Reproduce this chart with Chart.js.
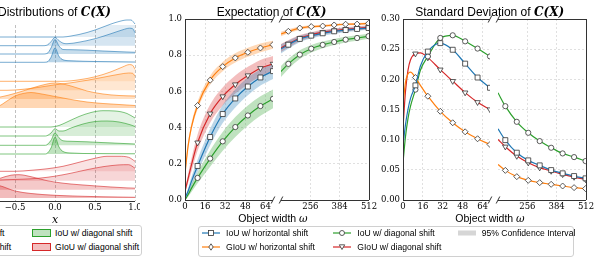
<!DOCTYPE html>
<html>
<head>
<meta charset="utf-8">
<script src="https://cdn.jsdelivr.net/npm/chart.js@4.4.1/dist/chart.umd.min.js"></script>
<style>
  html, body { margin: 0; padding: 0; background: #fff; }
  body { width: 598px; height: 259px; position: relative; overflow: hidden; font-family: 'Liberation Sans', Arial, sans-serif; color: #000; }
  canvas { position: absolute; top: 0; }
  .txt { position: absolute; white-space: nowrap; transform: translate(-50%, -50%); line-height: 1; }
  .title { font-size: 12px; }
  .math { font-family: 'DejaVu Serif', serif; font-weight: bold; font-style: italic; }
  .xlab { font-size: 10.5px; }
  .legend { position: absolute; border: 1px solid #d0d0d0; border-radius: 3px; background: #fff; }
  .item { position: absolute; font-size: 8.6px; white-space: nowrap; line-height: 1; transform: translateY(-50%); }
  .item svg { display: block; }
</style>
</head>
<body>

<canvas id="dist" width="170" height="217" style="left:-30px"></canvas>
<canvas id="expL" width="130" height="216" style="left:150px"></canvas>
<canvas id="expR" width="103" height="216" style="left:276px"></canvas>
<canvas id="stdL" width="129" height="216" style="left:368px"></canvas>
<canvas id="stdR" width="103" height="216" style="left:493px"></canvas>

<div class="txt title" style="left:54.5px;top:11.5px">Distributions of <span class="math">C(X)</span></div>
<div class="txt title" style="left:271.5px;top:11.5px">Expectation of <span class="math">C(X)</span></div>
<div class="txt title" style="left:489.7px;top:11.5px">Standard Deviation of <span class="math">C(X)</span></div>

<div class="txt" style="left:55px;top:219px;font-family:'DejaVu Serif',serif;font-style:italic;font-size:11px">x</div>
<div class="txt xlab" style="left:273px;top:218px">Object width <span style="font-family:'DejaVu Serif',serif;font-style:italic">ω</span></div>
<div class="txt xlab" style="left:490px;top:218px">Object width <span style="font-family:'DejaVu Serif',serif;font-style:italic">ω</span></div>

<div id="legDist" class="legend" style="left:-110px;top:225px;width:250px;height:29px"></div>
<div id="legMain" class="legend" style="left:198px;top:226px;width:374px;height:29px"></div>

<script>
// ---------------- data ----------------
const seriesNames = ['IoU w/ horizontal shift', 'GIoU w/ horizontal shift', 'IoU w/ diagonal shift', 'GIoU w/ diagonal shift'];
const seriesColors = ['blue', 'orange', 'green', 'red'];

// x values of the sampled curves (left part and right part of the broken axis)
const expXLeft = [0, 2.5, 5, 10, 20, 30, 40, 50, 60, 70];
const stdXLeft = [0, 2, 4, 6, 10, 14, 20, 30, 40, 50, 60, 70];
const xRight = [128, 160, 210, 260, 310, 360, 410, 460, 510];
const markXLeft = [10, 20, 30, 40, 50, 60, 70];
const markXRight = [160, 210, 260, 310, 360, 410, 460, 510];

const xTicksLeft = [0, 16, 32, 48, 64];
const xTicksRight = [256, 384, 512];

// expectation of C(X)
const iouHorExpL  = [0.01, 0.05, 0.10, 0.188, 0.348, 0.475, 0.561, 0.627, 0.677, 0.712];
const iouHorExpR  = [0.835, 0.858, 0.890, 0.908, 0.921, 0.932, 0.939, 0.945, 0.950];
const giouHorExpL = [0.146, 0.30, 0.40, 0.522, 0.662, 0.737, 0.785, 0.816, 0.840, 0.858];
const giouHorExpR = [0.917, 0.932, 0.950, 0.958, 0.961, 0.967, 0.971, 0.972, 0.976];
const iouDiaExpL  = [0.0, 0.03, 0.063, 0.122, 0.229, 0.324, 0.403, 0.467, 0.519, 0.559];
const iouDiaExpR  = [0.710, 0.752, 0.803, 0.836, 0.857, 0.873, 0.886, 0.895, 0.905];
const giouDiaExpL = [0.048, 0.12, 0.19, 0.317, 0.477, 0.572, 0.638, 0.688, 0.728, 0.752];
const giouDiaExpR = [0.840, 0.862, 0.894, 0.912, 0.927, 0.936, 0.943, 0.949, 0.954];

// half width of the 95% confidence band
const iouHorCiL  = [0.0, 0.015, 0.025, 0.035, 0.045, 0.05, 0.05, 0.048, 0.045, 0.043];
const iouHorCiR  = [0.025, 0.022, 0.018, 0.016, 0.014, 0.013, 0.012, 0.011, 0.010];
const giouHorCiL = [0.015, 0.02, 0.02, 0.022, 0.025, 0.026, 0.026, 0.025, 0.024, 0.022];
const giouHorCiR = [0.012, 0.011, 0.009, 0.008, 0.007, 0.007, 0.006, 0.006, 0.006];
const iouDiaCiL  = [0.0, 0.012, 0.02, 0.03, 0.045, 0.052, 0.055, 0.055, 0.054, 0.052];
const iouDiaCiR  = [0.03, 0.028, 0.024, 0.021, 0.019, 0.017, 0.016, 0.015, 0.014];
const giouDiaCiL = [0.01, 0.025, 0.035, 0.045, 0.05, 0.05, 0.05, 0.048, 0.046, 0.044];
const giouDiaCiR = [0.022, 0.02, 0.017, 0.015, 0.013, 0.012, 0.011, 0.011, 0.010];

// standard deviation of C(X)
const iouHorStdL  = [0.09, 0.125, 0.15, 0.168, 0.19, 0.222, 0.246, 0.26, 0.249, 0.226, 0.203, 0.186];
const iouHorStdR  = [0.118, 0.0992, 0.0784, 0.0657, 0.0574, 0.0496, 0.0442, 0.0397, 0.0359];
const giouHorStdL = [0.158, 0.195, 0.209, 0.212, 0.203, 0.19, 0.172, 0.147, 0.128, 0.113, 0.1015, 0.092];
const giouHorStdR = [0.059, 0.0491, 0.0387, 0.0326, 0.0288, 0.026, 0.0232, 0.0205, 0.0189];
const iouDiaStdL  = [0.062, 0.105, 0.135, 0.155, 0.183, 0.215, 0.238, 0.2686, 0.273, 0.263, 0.251, 0.238];
const iouDiaStdR  = [0.1776, 0.1555, 0.1296, 0.1114, 0.0976, 0.0866, 0.0772, 0.0711, 0.0645];
const giouDiaStdL = [0.12, 0.18, 0.215, 0.232, 0.2426, 0.244, 0.236, 0.216, 0.197, 0.178, 0.162, 0.150];
const giouDiaStdR = [0.1004, 0.0883, 0.0728, 0.0618, 0.0536, 0.048, 0.0425, 0.038, 0.0342];

// ridge densities: [x, height] pairs, one ridge per object width (widest on top)
const distIouHor = [
  [[-1,0],[0.1,0],[0.2,1],[0.3,2.5],[0.4,4.5],[0.5,7],[0.6,10],[0.7,13],[0.8,15.5],[0.9,17],[0.95,17],[1,13]],
  [[-1,0],[-0.15,0],[-0.1,0.5],[-0.05,4],[0,8.3],[0.05,5],[0.1,2.5],[0.15,2],[0.3,3.5],[0.5,7],[0.7,12],[0.85,16],[0.93,17.5],[0.97,17],[1,13]],
  [[-1,0],[-0.15,0],[-0.1,0.5],[-0.05,6],[0,14.5],[0.05,8],[0.1,4.5],[0.2,4.3],[0.4,3.8],[0.6,3],[0.8,2.3],[1,1.7]],
  [[-1,0],[-0.15,0],[-0.1,0.3],[-0.05,5],[0,14.3],[0.05,6],[0.1,2.5],[0.2,1.5],[0.5,0.8],[1,0.3]]
];
const distGiouHor = [
  [[-1,0],[0.1,0],[0.3,1.5],[0.5,4.5],[0.7,9.5],[0.85,14.5],[0.93,16.7],[0.97,16],[1,12]],
  [[-1,0],[-0.6,0],[-0.4,1],[-0.2,3],[0,5.5],[0.2,7.5],[0.4,10],[0.6,13],[0.8,16],[0.92,17.3],[0.97,17],[1,14]],
  [[-1,0],[-0.8,0.5],[-0.6,3.5],[-0.4,8],[-0.2,13],[0,16],[0.2,13],[0.4,8],[0.6,5],[0.8,3.5],[1,3]],
  [[-1,0],[-0.8,0.5],[-0.7,2],[-0.6,7],[-0.5,12],[-0.4,14.5],[-0.3,15.5],[-0.2,14.5],[0,11.5],[0.2,8.5],[0.4,6],[0.6,4.5],[0.8,3.5],[1,2.5]]
];
const distIouDia = [
  [[-1,0],[-0.05,0],[0.05,1.5],[0.15,5],[0.3,10.5],[0.45,14.5],[0.6,16.3],[0.75,16],[0.9,13.5],[1,9]],
  [[-1,0],[-0.12,0],[-0.05,3],[0,7.3],[0.05,5],[0.1,5],[0.2,8],[0.35,12],[0.5,14.5],[0.65,15],[0.8,14],[0.95,11],[1,9.5]],
  [[-1,0],[-0.12,0],[-0.05,5],[0,12.3],[0.05,7.5],[0.1,4.5],[0.2,4],[0.4,3.5],[0.6,2.7],[0.8,2],[1,1.3]],
  [[-1,0],[-0.12,0],[-0.05,6],[0,16.7],[0.05,7],[0.1,2.5],[0.2,1],[0.5,0.4],[1,0.2]]
];
const distGiouDia = [
  [[-1,0],[-0.5,0],[-0.3,1],[-0.1,2.5],[0.1,5],[0.3,9],[0.5,13],[0.65,15],[0.8,15],[0.92,14],[1,10]],
  [[-1,0],[-0.8,0.3],[-0.6,1],[-0.4,1.5],[-0.2,2.5],[0,4.5],[0.2,7.5],[0.4,11],[0.6,14],[0.8,15.8],[0.92,16],[1,12.5]],
  [[-1,2],[-0.85,6],[-0.7,11],[-0.55,14.5],[-0.45,15],[-0.3,13],[-0.1,9],[0.1,6.5],[0.3,5],[0.5,3.8],[0.7,2.7],[0.9,1.8],[1,1.5]],
  [[-1,16],[-0.9,15],[-0.8,13.5],[-0.7,12.5],[-0.5,7],[-0.3,4.5],[0,2.7],[0.3,1.8],[0.6,1.2],[1,0.7]]
];
// baseline of every ridge (same units as the heights)
const ridgeBase = [
  [164, 155.3, 147, 138.7],
  [119.7, 110.7, 102, 93],
  [74, 65, 55.7, 47],
  [29.7, 20.3, 11.3, 3]
];
const distTicks = [-1, -0.5, 0, 0.5, 1];

// ---------------- styles ----------------
const colors = { blue: '#1f77b4', orange: '#ff7f0e', green: '#2ca02c', red: '#d62728' };
const markers = {
  blue:   { style: 'rect', radius: 3.5, rotation: 0 },
  orange: { style: 'rectRot', radius: 3, rotation: 0 },
  green:  { style: 'circle', radius: 2.6, rotation: 0 },
  red:    { style: 'triangle', radius: 3.2, rotation: 180 }
};
const tickFont = { family: 'DejaVu Serif', size: 8.5 };

function rgba(hex, a) {
  const n = parseInt(hex.slice(1), 16);
  return 'rgba(' + (n >> 16) + ',' + ((n >> 8) & 255) + ',' + (n & 255) + ',' + a + ')';
}

// spines and "/ /" break marks
const framePlugin = {
  id: 'frame',
  afterDraw(chart, args, opts) {
    const ctx = chart.ctx, a = chart.chartArea;
    const px = v => Math.round(v) + 0.5;
    ctx.save();
    ctx.strokeStyle = '#333';
    ctx.lineWidth = 1;
    ctx.beginPath();
    (opts.sides || []).forEach(s => {
      if (s === 'left')   { ctx.moveTo(px(a.left), a.top);  ctx.lineTo(px(a.left), a.bottom); }
      if (s === 'right')  { ctx.moveTo(px(a.right), a.top); ctx.lineTo(px(a.right), a.bottom); }
      if (s === 'top')    { ctx.moveTo(a.left, px(a.top));  ctx.lineTo(a.right, px(a.top)); }
      if (s === 'bottom') { ctx.moveTo(a.left, px(a.bottom)); ctx.lineTo(a.right, px(a.bottom)); }
    });
    if (opts.breaks) {
      const x = opts.breaks === 'right' ? a.right : a.left;
      [a.top, a.bottom].forEach(y => { ctx.moveTo(x - 1.8, y + 3.5); ctx.lineTo(x + 1.8, y - 3.5); });
    }
    ctx.stroke();
    ctx.restore();
  }
};

function lineSet(xs, ys, color, marks) {
  const m = markers[color];
  return {
    data: xs.map((x, i) => ({ x: x, y: ys[i] })),
    borderColor: colors[color],
    borderWidth: 1.2,
    pointStyle: m.style,
    pointRotation: m.rotation,
    pointRadius: ctx => (ctx.raw && marks.includes(ctx.raw.x)) ? m.radius : 0,
    pointBackgroundColor: '#fff',
    pointBorderColor: '#333',
    pointBorderWidth: 0.8,
    cubicInterpolationMode: 'monotone',
    fill: false,
    clip: 0,
    order: 1
  };
}

function bandSets(xs, ys, hw, color) {
  return [
    { data: xs.map((x, i) => ({ x: x, y: ys[i] - hw[i] })), borderWidth: 0, borderColor: 'transparent',
      pointRadius: 0, fill: false, cubicInterpolationMode: 'monotone', clip: 0, order: 5 },
    { data: xs.map((x, i) => ({ x: x, y: ys[i] + hw[i] })), borderWidth: 0, borderColor: 'transparent',
      pointRadius: 0, fill: '-1', backgroundColor: rgba(colors[color], 0.3), cubicInterpolationMode: 'monotone', clip: 0, order: 5 }
  ];
}

// one half of a broken-axis panel
function subplot(id, datasets, o) {
  const config = {
    type: 'line',
    data: { datasets: datasets },
    options: {
      responsive: false,
      animation: false,
      layout: { padding: { left: 5, right: o.padRight, top: 19, bottom: 0 } },
      plugins: { legend: { display: false }, tooltip: { enabled: false }, frame: o.frame },
      scales: {
        x: {
          type: 'linear', min: o.xMin, max: o.xMax,
          afterBuildTicks: s => { s.ticks = o.xTicks.map(v => ({ value: v })); },
          afterFit: s => { s.height = 16; s.paddingLeft = 0; s.paddingRight = 0; },
          ticks: { font: tickFont, color: '#000', padding: 2, maxRotation: 0, autoSkip: false },
          grid: { color: '#d8d8d8', lineWidth: 0.8, drawTicks: false },
          border: { display: false, dash: [2, 2] }
        },
        y: {
          min: 0, max: o.yMax,
          ticks: { stepSize: o.yStep, display: o.showY, font: tickFont, color: '#000', padding: 3,
                   callback: v => v.toFixed(o.yDigits) },
          afterFit: s => { s.width = o.showY ? 30 : 0; s.paddingTop = 0; s.paddingBottom = 0; },
          grid: { color: '#d8d8d8', lineWidth: 0.8, drawTicks: false },
          border: { display: false, dash: [2, 2] }
        }
      }
    },
    plugins: [framePlugin]
  };
  return new Chart(document.getElementById(id), config);
}

function expectation() {
  const left = [], right = [];
  const expL = [iouHorExpL, giouHorExpL, iouDiaExpL, giouDiaExpL];
  const expR = [iouHorExpR, giouHorExpR, iouDiaExpR, giouDiaExpR];
  const ciL = [iouHorCiL, giouHorCiL, iouDiaCiL, giouDiaCiL];
  const ciR = [iouHorCiR, giouHorCiR, iouDiaCiR, giouDiaCiR];
  seriesColors.forEach((c, k) => {
    left.push(...bandSets(expXLeft, expL[k], ciL[k], c));
    right.push(...bandSets(xRight, expR[k], ciR[k], c));
  });
  seriesColors.forEach((c, k) => {
    left.push(lineSet(expXLeft, expL[k], c, markXLeft));
    right.push(lineSet(xRight, expR[k], c, markXRight));
  });
  subplot('expL', left, { xMin: 0, xMax: 70, xTicks: xTicksLeft, yMax: 1, yStep: 0.2, yDigits: 1, showY: true,
    padRight: 7, frame: { sides: ['left', 'top', 'bottom'], breaks: 'right' } });
  subplot('expR', right, { xMin: 128, xMax: 512, xTicks: xTicksRight, yMax: 1, yStep: 0.2, yDigits: 1, showY: false,
    padRight: 10, frame: { sides: ['right', 'top', 'bottom'], breaks: 'left' } });
}

function deviation() {
  const stdL = [iouHorStdL, giouHorStdL, iouDiaStdL, giouDiaStdL];
  const stdR = [iouHorStdR, giouHorStdR, iouDiaStdR, giouDiaStdR];
  const left = seriesColors.map((c, k) => lineSet(stdXLeft, stdL[k], c, markXLeft));
  const right = seriesColors.map((c, k) => lineSet(xRight, stdR[k], c, markXRight));
  subplot('stdL', left, { xMin: 0, xMax: 70, xTicks: xTicksLeft, yMax: 0.3, yStep: 0.05, yDigits: 2, showY: true,
    padRight: 7, frame: { sides: ['left', 'top', 'bottom'], breaks: 'right' } });
  subplot('stdR', right, { xMin: 128, xMax: 512, xTicks: xTicksRight, yMax: 0.3, yStep: 0.05, yDigits: 2, showY: false,
    padRight: 10, frame: { sides: ['right', 'top', 'bottom'], breaks: 'left' } });
}

function distributions() {
  const groups = [distIouHor, distGiouHor, distIouDia, distGiouDia];
  const alphas = [0.13, 0.19, 0.25, 0.31];
  const datasets = [];
  groups.forEach((ridges, g) => {
    const c = colors[seriesColors[g]];
    ridges.forEach((pts, r) => {
      const base = ridgeBase[g][r];
      datasets.push({
        data: pts.map(p => ({ x: p[0], y: base + p[1] })),
        fill: { value: base },
        backgroundColor: rgba(c, alphas[r]),
        borderColor: rgba(c, 0.6),
        borderWidth: 1,
        pointRadius: 0,
        cubicInterpolationMode: 'monotone',
        clip: false,
        order: 100 - (g * 4 + r)
      });
    });
  });
  const config = {
    type: 'line',
    data: { datasets: datasets },
    options: {
      responsive: false,
      animation: false,
      layout: { padding: { left: 5, right: 5, top: 25, bottom: 0 } },
      plugins: { legend: { display: false }, tooltip: { enabled: false }, frame: { sides: ['bottom'] } },
      scales: {
        x: {
          type: 'linear', min: -1, max: 1,
          afterBuildTicks: s => { s.ticks = distTicks.map(v => ({ value: v })); },
          afterFit: s => { s.height = 16; s.paddingLeft = 0; s.paddingRight = 0; },
          ticks: { font: tickFont, color: '#000', padding: 2, maxRotation: 0, autoSkip: false,
                   callback: v => (v < 0 ? '\u2212' : '') + Math.abs(v).toFixed(1) },
          grid: { color: '#b0b0b0', lineWidth: 0.8, drawTicks: false },
          border: { display: false, dash: [3, 2] }
        },
        y: { display: false, min: 0, max: 176 }
      }
    },
    plugins: [framePlugin]
  };
  new Chart(document.getElementById('dist'), config);
}

// ---------------- legends ----------------
function icon(color) {
  const c = colors[color];
  let mk = '';
  if (color === 'blue') mk = '<rect x="6.5" y="1.5" width="5" height="5" fill="#fff" stroke="#333" stroke-width="0.8"/>';
  if (color === 'orange') mk = '<polygon points="9,0.8 11.2,4 9,7.2 6.8,4" fill="#fff" stroke="#333" stroke-width="0.8"/>';
  if (color === 'green') mk = '<circle cx="9" cy="4" r="2.5" fill="#fff" stroke="#333" stroke-width="0.8"/>';
  if (color === 'red') mk = '<polygon points="6.3,1.8 11.7,1.8 9,6.5" fill="#fff" stroke="#333" stroke-width="0.8"/>';
  return '<svg width="18" height="8"><line x1="0" y1="4" x2="18" y2="4" stroke="' + c + '" stroke-width="1.2"/>' + mk + '</svg>';
}
function patch(color) {
  return '<div style="width:17px;height:6px;border:1px solid ' + colors[color] + ';background:' + rgba(colors[color], 0.3) + '"></div>';
}
function addItem(box, left, top, html) {
  const d = document.createElement('div');
  d.className = 'item';
  d.style.left = left + 'px';
  d.style.top = top + 'px';
  d.innerHTML = html;
  box.appendChild(d);
}
function legends() {
  const main = document.getElementById('legMain');
  const pos = [[2.7, 6.3, 27], [2.7, 19.7, 27], [134.3, 6.3, 158.3], [134.3, 19.7, 158.3]];
  seriesNames.forEach((name, k) => {
    addItem(main, pos[k][0], pos[k][1], icon(seriesColors[k]));
    addItem(main, pos[k][2], pos[k][1], name);
  });
  addItem(main, 259.3, 6.3, '<div style="width:18px;height:5px;background:#d6d6d6"></div>');
  addItem(main, 282.7, 6.3, '95% Confidence Interval');

  const dist = document.getElementById('legDist');
  const dpos = [[8, 6.7, 31.3], [8, 20.5, 31.3], [140.7, 6.7, 164], [140.7, 20.5, 164]];
  seriesNames.forEach((name, k) => {
    addItem(dist, dpos[k][0], dpos[k][1], patch(seriesColors[k]));
    addItem(dist, dpos[k][2], dpos[k][1], name);
  });
}

distributions();
expectation();
deviation();
legends();
</script>
</body>
</html>
